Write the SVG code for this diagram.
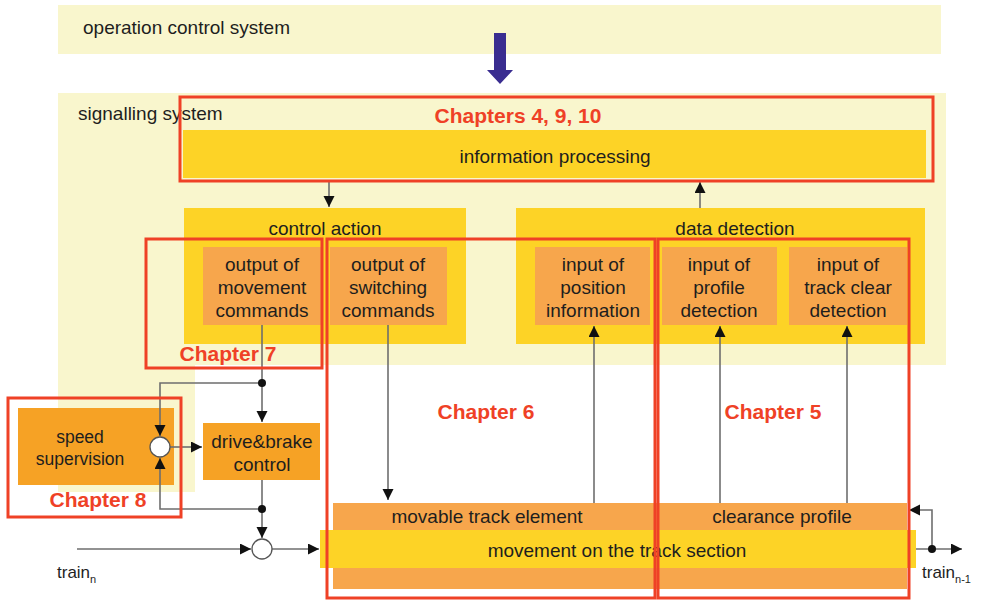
<svg xmlns="http://www.w3.org/2000/svg" width="982" height="601" viewBox="0 0 982 601">
<style>
.t{font-family:"Liberation Sans",Arial,sans-serif;font-size:19px;fill:#1e1e1e;text-anchor:middle}
.s{text-anchor:start}
.ch{font-family:"Liberation Sans",Arial,sans-serif;font-size:21px;font-weight:bold;fill:#ef4126;text-anchor:middle}
.red{fill:none;stroke:#ef4126;stroke-width:3}
.ln{fill:none;stroke:#6e6e6e;stroke-width:1.6}
.ly{fill:#f9f6cd}
.yl{fill:#fdd326}
.or{fill:#f7a64c}
.dor{fill:#f6a225}
</style>
<defs>
<marker id="ah" markerUnits="userSpaceOnUse" markerWidth="12" markerHeight="12" refX="11" refY="5.5" orient="auto">
<path d="M0,0 L11,5.5 L0,11 z" fill="#111"/>
</marker>
</defs>
<rect width="982" height="601" fill="#fff"/>
<g id="operation-control">
<rect class="ly" x="58" y="5" width="883" height="49"/>
<text class="t s" x="83" y="34">operation control system</text>
</g>
<g id="blue-arrow">
<path d="M494,33 H506 V70 H513 L500,84 L487,70 H494 Z" fill="#3a2d90"/>
</g>
<g id="signalling-system">
<path class="ly" d="M58,93 H946 V365 H195 V492 H58 Z"/>
<text class="t s" x="78" y="120">signalling system</text>
</g>
<g id="information-processing">
<rect class="yl" x="183" y="130" width="743" height="48"/>
<text class="t" x="555" y="163">information processing</text>
</g>
<g id="control-action">
<rect class="yl" x="184" y="208" width="282" height="136"/>
<text class="t" x="325" y="235">control action</text>
</g>
<g id="data-detection">
<rect class="yl" x="516" y="208" width="409" height="136"/>
<text class="t" x="735" y="235">data detection</text>
</g>
<g id="output-movement">
<rect class="or" x="203" y="247" width="118" height="78"/>
<text class="t" x="262" y="271">output of</text>
<text class="t" x="262" y="294">movement</text>
<text class="t" x="262" y="317">commands</text>
</g>
<g id="output-switching">
<rect class="or" x="330" y="247" width="117" height="78"/>
<text class="t" x="388" y="271">output of</text>
<text class="t" x="388" y="294">switching</text>
<text class="t" x="388" y="317">commands</text>
</g>
<g id="input-position">
<rect class="or" x="535" y="247" width="115" height="78"/>
<text class="t" x="593" y="271">input of</text>
<text class="t" x="593" y="294">position</text>
<text class="t" x="593" y="317">information</text>
</g>
<g id="input-profile">
<rect class="or" x="662" y="247" width="115" height="78"/>
<text class="t" x="719" y="271">input of</text>
<text class="t" x="719" y="294">profile</text>
<text class="t" x="719" y="317">detection</text>
</g>
<g id="input-track-clear">
<rect class="or" x="789" y="247" width="118" height="78"/>
<text class="t" x="848" y="271">input of</text>
<text class="t" x="848" y="294">track clear</text>
<text class="t" x="848" y="317">detection</text>
</g>
<g id="speed-supervision">
<rect class="dor" x="18" y="408" width="156" height="77"/>
<text class="t" x="80" y="443" style="font-size:17.5px">speed</text>
<text class="t" x="80" y="465" style="font-size:17.5px">supervision</text>
</g>
<g id="drive-brake">
<rect class="dor" x="203" y="423" width="117" height="57"/>
<text class="t" x="262" y="448">drive&amp;brake</text>
<text class="t" x="262" y="471">control</text>
</g>
<g id="track-elements">
<rect class="or" x="333" y="503" width="574" height="86"/>
<rect class="yl" x="320" y="530" width="596" height="38"/>
<text class="t" x="487" y="523">movable track element</text>
<text class="t" x="782" y="523">clearance profile</text>
<text class="t" x="617" y="557">movement on the track section</text>
</g>
<g id="connectors">
<line class="ln" x1="329" y1="181" x2="329" y2="207" marker-end="url(#ah)"/>
<line class="ln" x1="700" y1="208" x2="700" y2="182" marker-end="url(#ah)"/>
<line class="ln" x1="262" y1="325" x2="262" y2="422" marker-end="url(#ah)"/>
<polyline class="ln" points="262,383 160,383 160,436" marker-end="url(#ah)"/>
<line class="ln" x1="170" y1="447" x2="202" y2="447" marker-end="url(#ah)"/>
<line class="ln" x1="262" y1="480" x2="262" y2="538" marker-end="url(#ah)"/>
<polyline class="ln" points="262,509 160,509 160,458" marker-end="url(#ah)"/>
<line class="ln" x1="77" y1="549" x2="251" y2="549" marker-end="url(#ah)"/>
<line class="ln" x1="272" y1="549" x2="319" y2="549" marker-end="url(#ah)"/>
<line class="ln" x1="388" y1="325" x2="388" y2="500" marker-end="url(#ah)"/>
<line class="ln" x1="594" y1="503" x2="594" y2="326" marker-end="url(#ah)"/>
<line class="ln" x1="720" y1="503" x2="720" y2="326" marker-end="url(#ah)"/>
<line class="ln" x1="847" y1="503" x2="847" y2="326" marker-end="url(#ah)"/>
<line class="ln" x1="916" y1="549" x2="962" y2="549" marker-end="url(#ah)"/>
<polyline class="ln" points="932,549 932,510 909,510" marker-end="url(#ah)"/>
<circle cx="160" cy="447" r="10" fill="#fff" stroke="#555" stroke-width="1.3"/>
<circle cx="262" cy="549" r="10" fill="#fff" stroke="#555" stroke-width="1.3"/>
<circle cx="262" cy="383" r="4" fill="#111"/>
<circle cx="262" cy="509" r="4" fill="#111"/>
<circle cx="932" cy="549" r="4" fill="#111"/>
</g>
<g id="train-labels">
<text class="t s" x="57" y="578" style="font-size:17px">train<tspan dy="5" style="font-size:11px">n</tspan></text>
<text class="t s" x="922" y="578" style="font-size:17px">train<tspan dy="5" style="font-size:11px">n-1</tspan></text>
</g>
<g id="chapters">
<rect class="red" x="180" y="97" width="753" height="84"/>
<text class="ch" x="518" y="123">Chapters 4, 9, 10</text>
<rect class="red" x="146" y="239" width="176" height="129"/>
<text class="ch" x="228" y="361">Chapter 7</text>
<rect class="red" x="327" y="239" width="328" height="359"/>
<text class="ch" x="486" y="419">Chapter 6</text>
<rect class="red" x="658" y="239" width="251" height="359"/>
<text class="ch" x="773" y="419">Chapter 5</text>
<rect class="red" x="8" y="398" width="173" height="119"/>
<text class="ch" x="98" y="507">Chapter 8</text>
</g>
</svg>
